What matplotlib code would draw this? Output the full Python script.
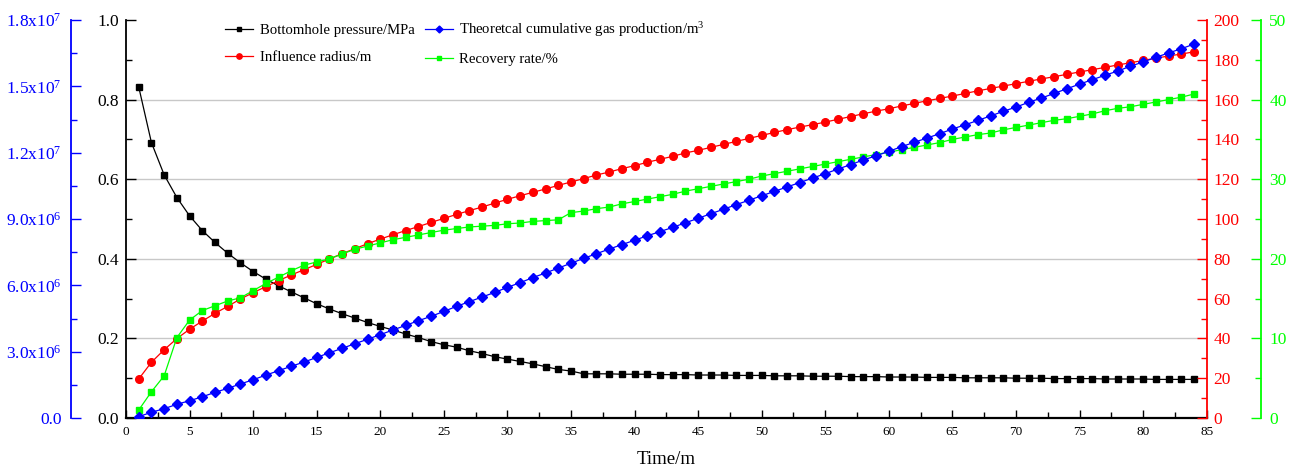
import numpy as np
import matplotlib
matplotlib.use("Agg")
import matplotlib.pyplot as plt
from matplotlib.ticker import MultipleLocator, FixedLocator, FixedFormatter

plt.rcParams['font.family'] = ['Liberation Serif', 'DejaVu Serif']
plt.rcParams['mathtext.fontset'] = 'custom'
plt.rcParams['mathtext.rm'] = 'Liberation Serif'
plt.rcParams['mathtext.it'] = 'Liberation Serif'

# ----------------------------
# Data
# ----------------------------
time_m = np.arange(1, 85)

pressure = [0.832, 0.692, 0.611, 0.554, 0.508, 0.471, 0.441, 0.414, 0.390, 0.368,
            0.349, 0.332, 0.317, 0.302, 0.287, 0.274, 0.262, 0.251, 0.240, 0.230,
            0.221, 0.211, 0.202, 0.192, 0.184, 0.178, 0.169, 0.162, 0.154, 0.148,
            0.142, 0.136, 0.129, 0.122, 0.118, 0.111, 0.111, 0.111, 0.110, 0.110,
            0.110, 0.109, 0.109, 0.109, 0.108, 0.108, 0.108, 0.107, 0.107, 0.107,
            0.106, 0.106, 0.106, 0.105, 0.105, 0.105, 0.104, 0.104, 0.104, 0.103,
            0.103, 0.103, 0.102, 0.102, 0.102, 0.101, 0.101, 0.101, 0.101, 0.100,
            0.100, 0.100, 0.099, 0.099, 0.099, 0.099, 0.098, 0.098, 0.098, 0.098,
            0.097, 0.097, 0.097, 0.097]

radius = [19.6, 28.0, 34.3, 39.9, 44.6, 48.7, 52.6, 56.1, 59.8, 63.0,
          66.0, 69.0, 71.9, 74.5, 77.2, 79.9, 82.6, 85.1, 87.6, 89.9,
          92.1, 94.2, 96.2, 98.3, 100.3, 102.3, 104.2, 106.0, 108.0, 109.9,
          111.7, 113.4, 115.1, 116.9, 118.6, 120.3, 122.1, 123.6, 125.3, 126.8,
          128.5, 130.0, 131.5, 133.2, 134.5, 136.0, 137.5, 139.0, 140.5, 142.0,
          143.5, 144.9, 146.2, 147.4, 148.7, 150.1, 151.5, 152.9, 154.2, 155.4,
          156.8, 158.1, 159.4, 160.6, 161.8, 163.1, 164.4, 165.6, 166.8, 168.0,
          169.2, 170.4, 171.5, 172.7, 173.9, 175.0, 176.2, 177.4, 178.5, 179.7,
          180.8, 181.9, 182.9, 184.0]

# cumulative gas production, units of 1e6 m3
gas_1e6 = [0.06, 0.26, 0.42, 0.62, 0.78, 0.96, 1.16, 1.34, 1.54, 1.73,
           1.94, 2.14, 2.34, 2.53, 2.74, 2.95, 3.15, 3.36, 3.56, 3.77,
           3.98, 4.19, 4.40, 4.60, 4.82, 5.05, 5.26, 5.47, 5.68, 5.91,
           6.12, 6.35, 6.56, 6.78, 7.00, 7.22, 7.43, 7.64, 7.84, 8.04,
           8.24, 8.43, 8.62, 8.83, 9.03, 9.24, 9.44, 9.65, 9.85, 10.05,
           10.25, 10.45, 10.65, 10.85, 11.05, 11.26, 11.46, 11.67, 11.86, 12.06,
           12.27, 12.47, 12.66, 12.86, 13.07, 13.26, 13.46, 13.66, 13.87, 14.06,
           14.28, 14.47, 14.68, 14.89, 15.10, 15.30, 15.50, 15.69, 15.91, 16.10,
           16.31, 16.51, 16.70, 16.91]

recovery = [1.0, 3.3, 5.3, 10.1, 12.3, 13.5, 14.1, 14.7, 15.1, 16.0,
            16.9, 17.7, 18.5, 19.2, 19.6, 20.0, 20.6, 21.2, 21.6, 22.0,
            22.4, 22.7, 23.0, 23.3, 23.6, 23.8, 24.0, 24.1, 24.2, 24.4,
            24.5, 24.7, 24.8, 24.9, 25.8, 26.0, 26.3, 26.5, 26.9, 27.2,
            27.5, 27.8, 28.1, 28.5, 28.8, 29.1, 29.4, 29.7, 30.0, 30.4,
            30.7, 31.0, 31.3, 31.6, 31.9, 32.2, 32.5, 32.8, 33.1, 33.4,
            33.7, 34.0, 34.3, 34.6, 35.0, 35.3, 35.6, 35.8, 36.2, 36.5,
            36.8, 37.1, 37.4, 37.6, 37.9, 38.2, 38.6, 38.9, 39.1, 39.4,
            39.7, 40.0, 40.3, 40.7]

gas_ticks = [0, 3e6, 6e6, 9e6, 1.2e7, 1.5e7, 1.8e7]
gas_tick_labels = ['0.0', '3.0x10$^{6}$', '6.0x10$^{6}$', '9.0x10$^{6}$',
                   '1.2x10$^{7}$', '1.5x10$^{7}$', '1.8x10$^{7}$']
grid_levels = [0.2, 0.4, 0.6, 0.8]

BLACK, RED, BLUE, GREEN = 'black', '#ff0000', '#0000ff', '#00ff00'

# ----------------------------
# Figure
# ----------------------------
fig = plt.figure(figsize=(12.98, 4.71), dpi=100)
ax = fig.add_axes([126 / 1298, 1 - 418 / 471, (1206.7 - 126) / 1298, (418 - 20) / 471])
ax_r = ax.twinx()
ax_g = ax.twinx()
ax_b = ax.twinx()

l_p, = ax.plot(time_m, pressure, color=BLACK, marker='s', linewidth=0.9, markersize=5,
               label='Bottomhole pressure/MPa')
l_r, = ax_r.plot(time_m, radius, color=RED, marker='o', linewidth=0.9, markersize=5.5,
                 label='Influence radius/m')
l_g, = ax_g.plot(time_m, recovery, color=GREEN, marker='s', linewidth=0.9, markersize=5,
                 label='Recovery rate/%')
l_b, = ax_b.plot(time_m, np.array(gas_1e6) * 1e6, color=BLUE, marker='D', linewidth=0.9,
                 markersize=5, label='Theoretcal cumulative gas production/m$^{3}$')

# main (black) axis
ax.set_xlim(0, 85)
ax.set_ylim(0, 1.0)
ax.xaxis.set_major_locator(MultipleLocator(5))
ax.xaxis.set_minor_locator(MultipleLocator(2.5))
ax.yaxis.set_major_locator(MultipleLocator(0.2))
ax.yaxis.set_minor_locator(MultipleLocator(0.1))
ax.yaxis.set_major_formatter(plt.FuncFormatter(lambda v, p: f'{v:.1f}'))
ax.tick_params(axis='x', which='both', direction='in', labelsize=9.5, pad=6, width=1)
ax.tick_params(axis='x', which='major', length=6)
ax.tick_params(axis='x', which='minor', length=4)
ax.tick_params(axis='y', which='both', direction='in', labelsize=12.5, pad=5, width=1)
ax.tick_params(axis='y', which='major', length=7)
ax.tick_params(axis='y', which='minor', length=4)
for g in grid_levels:
    ax.axhline(g, color='#c8c8c8', linewidth=1, zorder=0)
for s in ['top', 'right']:
    ax.spines[s].set_visible(False)
ax.spines['left'].set_linewidth(1.3)
ax.spines['bottom'].set_linewidth(1.6)
ax.set_xlabel('Time/m', fontsize=13.5, labelpad=9)

# red axis
ax_r.set_ylim(0, 200)
ax_r.yaxis.set_major_locator(MultipleLocator(20))
ax_r.yaxis.set_minor_locator(MultipleLocator(10))
ax_r.tick_params(axis='y', which='both', direction='in', colors=RED, labelsize=12.5, pad=5, width=1)
ax_r.tick_params(axis='y', which='major', length=7)
ax_r.tick_params(axis='y', which='minor', length=4)
for s in ['top', 'left', 'bottom']:
    ax_r.spines[s].set_visible(False)
ax_r.spines['right'].set_color(RED)
ax_r.spines['right'].set_linewidth(1.3)

# green axis
ax_g.set_ylim(0, 50)
ax_g.spines['right'].set_position(('axes', 1 + (1261 - 1206.7) / 1080.7))
ax_g.yaxis.set_major_locator(MultipleLocator(10))
ax_g.yaxis.set_minor_locator(MultipleLocator(5))
ax_g.tick_params(axis='y', which='both', direction='in', colors=GREEN, labelsize=12.5, pad=6, width=1)
ax_g.tick_params(axis='y', which='major', length=7)
ax_g.tick_params(axis='y', which='minor', length=4)
for s in ['top', 'left', 'bottom']:
    ax_g.spines[s].set_visible(False)
ax_g.spines['right'].set_color(GREEN)
ax_g.spines['right'].set_linewidth(1.3)

# blue axis (far left)
ax_b.set_ylim(0, 1.8e7)
ax_b.yaxis.set_ticks_position('left')
ax_b.yaxis.set_label_position('left')
ax_b.spines['left'].set_visible(True)
ax_b.spines['left'].set_position(('axes', -(126 - 71.3) / 1080.7))
ax_b.spines['left'].set_color(BLUE)
ax_b.spines['left'].set_linewidth(1.3)
for s in ['top', 'right', 'bottom']:
    ax_b.spines[s].set_visible(False)
ax_b.yaxis.set_major_locator(FixedLocator(gas_ticks))
ax_b.yaxis.set_major_formatter(FixedFormatter(gas_tick_labels))
ax_b.yaxis.set_minor_locator(MultipleLocator(1.5e6))
ax_b.tick_params(axis='y', which='both', direction='in', colors=BLUE, labelsize=12.5, pad=7, width=1)
ax_b.tick_params(axis='y', which='major', length=7)
ax_b.tick_params(axis='y', which='minor', length=4)

# legend
leg = ax_b.legend(handles=[l_p, l_r, l_b, l_g], ncol=2, frameon=False,
                  loc='upper left', bbox_to_anchor=(212 / 1298, 1 - 7 / 471),
                  bbox_transform=fig.transFigure, fontsize=10.6,
                  handlelength=1.9, handletextpad=0.45, columnspacing=0.7,
                  labelspacing=0.9, markerscale=0.7)

fig.savefig('out.png', dpi=100)
